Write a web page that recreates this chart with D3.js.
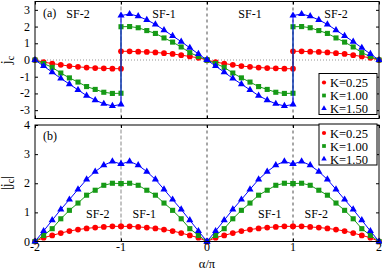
<!DOCTYPE html>
<html>
<head>
<meta charset="utf-8">
<script src="https://cdn.jsdelivr.net/npm/d3@7"></script>
<style>
  body { margin: 0; background: #fff; }
  svg { display: block; font-family: "Liberation Serif", "DejaVu Serif", serif; }
</style>
</head>
<body>
<svg id="chart" width="382" height="270"></svg>
<script>
// distance in alpha/pi from the zero crossing
const alphaOffsets = [0, 0.1, 0.2, 0.3, 0.4, 0.5, 0.6, 0.7, 0.8, 0.9, 1.0];
// |j_c| for each K along that offset (curve is mirrored about +-1 with sign flip)
const jcK025 = [0, 0.13, 0.21, 0.29, 0.36, 0.41, 0.45, 0.48, 0.50, 0.52, 0.52];
const jcK100 = [0, 0.21, 0.44, 0.78, 1.07, 1.32, 1.59, 1.76, 1.93, 2.00, 1.99];
const jcK150 = [0, 0.36, 0.73, 1.10, 1.44, 1.79, 2.13, 2.40, 2.62, 2.75, 2.66];
const kLabels = ['K=0.25', 'K=1.00', 'K=1.50'];
const xTicks = [-2, -1, 0, 1, 2];
const yTicksTop = [-3, -2, -1, 0, 1, 2, 3];
const yTicksBottom = [0, 1, 2, 3, 4];
const regionLabelsTop = [['SF-2', -1.5], ['SF-1', -0.5], ['SF-1', 0.5], ['SF-2', 1.5]];
const regionLabelsBottom = [['SF-2', -1.27], ['SF-1', -0.73], ['SF-1', 0.73], ['SF-2', 1.27]];

const colors = ['#ff0000', '#169a16', '#0000ff'];
const symbols = [d3.symbolCircle, d3.symbolSquare, d3.symbolTriangle];
const symSizes = [26, 26, 22];
const legSizes = [14, 14, 13];

// build full sweep -2..2 from the magnitude readings
function sweep(mag) {
  const pts = [];
  [-2, 0].forEach(start => {
    alphaOffsets.forEach((t, i) => pts.push({ a: start + t, v: -mag[i] }));
    alphaOffsets.forEach((t, i) => pts.push({ a: start + 1 + t, v: mag[10 - i] }));
  });
  return pts;
}
const series = [jcK025, jcK100, jcK150].map(sweep);

const svg = d3.select('#chart');
const x = d3.scaleLinear().domain([-2, 2]).range([35, 379]);
const yTop = d3.scaleLinear().domain([-3.5, 3.5]).range([118.5, 1.5]);
const yBot = d3.scaleLinear().domain([0, 4]).range([241.5, 125]);

function panel(y, yTicks, valueFn, opts) {
  const g = svg.append('g');
  const [y0, y1] = y.range();

  // vertical dashed guides
  g.append('line')
    .attr('x1', x(-1)).attr('x2', x(-1)).attr('y1', y0).attr('y2', y1)
    .attr('stroke', '#888').attr('stroke-width', 1).attr('stroke-dasharray', '4,2');
  [0, 1].forEach(v => {
    g.append('line')
      .attr('x1', x(v)).attr('x2', x(v)).attr('y1', y0).attr('y2', y1)
      .attr('stroke', '#000').attr('stroke-width', 0.7).attr('stroke-dasharray', '3,3');
  });
  if (opts.zeroLine) {
    g.append('line')
      .attr('x1', x(-2)).attr('x2', x(2)).attr('y1', y(0)).attr('y2', y(0))
      .attr('stroke', '#777').attr('stroke-width', 0.8).attr('stroke-dasharray', '1,2');
  }

  // y axis left/right with inward ticks
  const left = g.append('g').attr('transform', `translate(${x(-2)},0)`)
    .call(d3.axisRight(y).tickValues(yTicks).tickSize(3).tickFormat(''));
  const right = g.append('g').attr('transform', `translate(${x(2)},0)`)
    .call(d3.axisLeft(y).tickValues(yTicks).tickSize(3).tickFormat(''));
  [left, right].forEach(a => {
    a.select('.domain').remove();
    a.selectAll('line').attr('stroke', '#000');
  });
  g.selectAll('.ytl').data(yTicks).enter().append('text')
    .attr('x', 30).attr('y', d => y(d) + 4)
    .attr('text-anchor', 'end').attr('font-size', 12).text(d => d);

  // x ticks inward
  const xb = g.append('g').attr('transform', `translate(0,${y0})`)
    .call(d3.axisTop(x).tickValues(xTicks).tickSize(3).tickFormat(''));
  xb.select('.domain').remove();
  xb.selectAll('line').attr('stroke', '#000');
  const xt = g.append('g').attr('transform', `translate(0,${y1})`)
    .call(d3.axisBottom(x).tickValues(xTicks).tickSize(3).tickFormat(''));
  xt.select('.domain').remove();
  xt.selectAll('line').attr('stroke', '#000');

  // series
  const line = d3.line().x(d => x(d.a)).y(d => y(valueFn(d.v)));
  series.forEach((s, i) => {
    g.append('path').datum(s)
      .attr('fill', 'none').attr('stroke', colors[i]).attr('stroke-width', 1)
      .attr('d', line);
    g.selectAll(null).data(s).enter().append('path')
      .attr('transform', d => `translate(${x(d.a)},${y(valueFn(d.v))})`)
      .attr('d', d3.symbol().type(symbols[i]).size(symSizes[i]))
      .attr('fill', colors[i]);
  });

  // frame
  g.append('rect')
    .attr('x', x(-2)).attr('y', y1).attr('width', x(2) - x(-2)).attr('height', y0 - y1)
    .attr('fill', 'none').attr('stroke', '#000').attr('stroke-width', 1);

  // panel & region labels
  g.append('text').attr('x', 43).attr('y', y1 + 15).attr('font-size', 12).text(opts.tag);
  opts.regions.forEach(([t, a]) => {
    g.append('text').attr('x', x(a)).attr('y', opts.regionY)
      .attr('text-anchor', 'middle').attr('font-size', 12).text(t);
  });

  // legend
  const lg = g.append('g').attr('transform', `translate(319,${opts.legY})`);
  lg.append('rect').attr('width', 58).attr('height', 41)
    .attr('fill', '#fff').attr('stroke', '#000').attr('stroke-width', 1);
  kLabels.forEach((k, i) => {
    const yy = 9 + i * 13;
    lg.append('path').attr('transform', `translate(5,${yy})`)
      .attr('d', d3.symbol().type(symbols[i]).size(legSizes[i]))
      .attr('fill', colors[i]);
    lg.append('text').attr('x', 11).attr('y', yy + 4.5)
      .attr('font-size', 12.5).text(k);
  });
}

panel(yTop, yTicksTop, v => v,
  { zeroLine: true, tag: '(a)', regions: regionLabelsTop, regionY: 18, legY: 73.5 });
panel(yBot, yTicksBottom, v => Math.abs(v),
  { zeroLine: false, tag: '(b)', regions: regionLabelsBottom, regionY: 218, legY: 124 });

// x tick labels under bottom panel
svg.selectAll('.xtl').data(xTicks).enter().append('text')
  .attr('x', d => x(d)).attr('y', 251)
  .attr('text-anchor', 'middle').attr('font-size', 12).text(d => d);

svg.append('text').attr('x', x(0)).attr('y', 267.5)
  .attr('text-anchor', 'middle').attr('font-size', 12.5).text('α/π');

// y labels
const yl1 = svg.append('text').attr('transform', 'translate(11,60) rotate(-90)')
  .attr('text-anchor', 'middle').attr('font-size', 14);
yl1.append('tspan').text('j');
yl1.append('tspan').attr('font-size', 10).attr('dy', 3).text('c');

const yl2 = svg.append('text').attr('transform', 'translate(11,183) rotate(-90)')
  .attr('text-anchor', 'middle').attr('font-size', 14);
yl2.append('tspan').text('|j');
yl2.append('tspan').attr('font-size', 10).attr('dy', 3).text('c');
yl2.append('tspan').attr('dy', -3).text('|');
</script>
</body>
</html>
